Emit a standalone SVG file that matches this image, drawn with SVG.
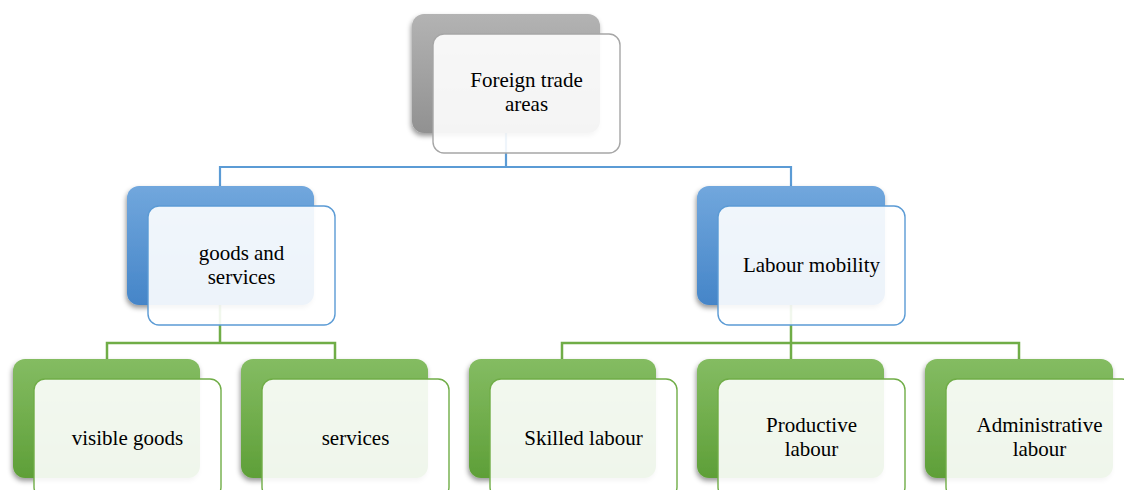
<svg xmlns="http://www.w3.org/2000/svg" width="1124" height="490" viewBox="0 0 1124 490">
<defs>
<linearGradient id="gGray" x1="0" y1="0" x2="0" y2="1"><stop offset="0" stop-color="#b3b3b3"/><stop offset="1" stop-color="#919191"/></linearGradient>
<linearGradient id="gBlue" x1="0" y1="0" x2="0" y2="1"><stop offset="0" stop-color="#71a7dd"/><stop offset="1" stop-color="#4585c8"/></linearGradient>
<linearGradient id="gGreen" x1="0" y1="0" x2="0" y2="1"><stop offset="0" stop-color="#84bc62"/><stop offset="1" stop-color="#5e9f38"/></linearGradient>
<filter id="sh" x="-20%" y="-20%" width="140%" height="150%"><feDropShadow dx="-1" dy="3" stdDeviation="2.5" flood-color="#000" flood-opacity="0.4"/></filter>
<style>
.back{filter:url(#sh)}
.front{fill:#ffffff;fill-opacity:0.9;stroke-width:1.4}
.fg{stroke:#a6a6a6}
.fb{stroke:#5b9bd5}
.fgr{stroke:#70ad47}
.lb{fill:none;stroke:#5b9bd5;stroke-width:2.2}
.lg{fill:none;stroke:#70ad47;stroke-width:2.5}
.t{font-size:21px;fill:#000;text-anchor:middle}
</style>
</defs>
<g id="connectors">
<path class="lb" d="M506 133V167M220 186V167H791V186"/>
<path class="lg" d="M220 305V343M107 359V343H335V359"/>
<path class="lg" d="M791 305V343M562 359V343H1019V359M791 343V359"/>
</g>
<g font-family="Liberation Serif, DejaVu Serif, serif">
<g id="node-root">
<rect class="back" x="412" y="14" width="188" height="119" rx="12" fill="url(#gGray)"/>
<rect class="front fg" x="433" y="34" width="187" height="119" rx="11"/>
<text class="t" x="526.5" y="87">Foreign trade</text>
<text class="t" x="526.5" y="111">areas</text>
</g>
<g id="node-goods">
<rect class="back" x="127" y="186" width="187" height="119" rx="12" fill="url(#gBlue)"/>
<rect class="front fb" x="148" y="206" width="187" height="119" rx="11"/>
<text class="t" x="241.5" y="260">goods and</text>
<text class="t" x="241.5" y="284">services</text>
</g>
<g id="node-labour">
<rect class="back" x="697" y="186" width="188" height="119" rx="12" fill="url(#gBlue)"/>
<rect class="front fb" x="718" y="206" width="187" height="119" rx="11"/>
<text class="t" x="811.5" y="272">Labour mobility</text>
</g>
<g id="node-visible">
<rect class="back" x="13" y="359" width="187" height="119" rx="12" fill="url(#gGreen)"/>
<rect class="front fgr" x="34" y="379" width="187" height="119" rx="11"/>
<text class="t" x="127.5" y="445">visible goods</text>
</g>
<g id="node-services">
<rect class="back" x="241" y="359" width="187" height="119" rx="12" fill="url(#gGreen)"/>
<rect class="front fgr" x="262" y="379" width="187" height="119" rx="11"/>
<text class="t" x="355.5" y="445">services</text>
</g>
<g id="node-skilled">
<rect class="back" x="469" y="359" width="187" height="119" rx="12" fill="url(#gGreen)"/>
<rect class="front fgr" x="490" y="379" width="187" height="119" rx="11"/>
<text class="t" x="583.5" y="445">Skilled labour</text>
</g>
<g id="node-productive">
<rect class="back" x="697" y="359" width="187" height="119" rx="12" fill="url(#gGreen)"/>
<rect class="front fgr" x="718" y="379" width="187" height="119" rx="11"/>
<text class="t" x="811.5" y="432">Productive</text>
<text class="t" x="811.5" y="456">labour</text>
</g>
<g id="node-admin">
<rect class="back" x="925" y="359" width="188" height="119" rx="12" fill="url(#gGreen)"/>
<rect class="front fgr" x="946" y="379" width="187" height="119" rx="11"/>
<text class="t" x="1039.5" y="432">Administrative</text>
<text class="t" x="1039.5" y="456">labour</text>
</g>
</g>
</svg>
